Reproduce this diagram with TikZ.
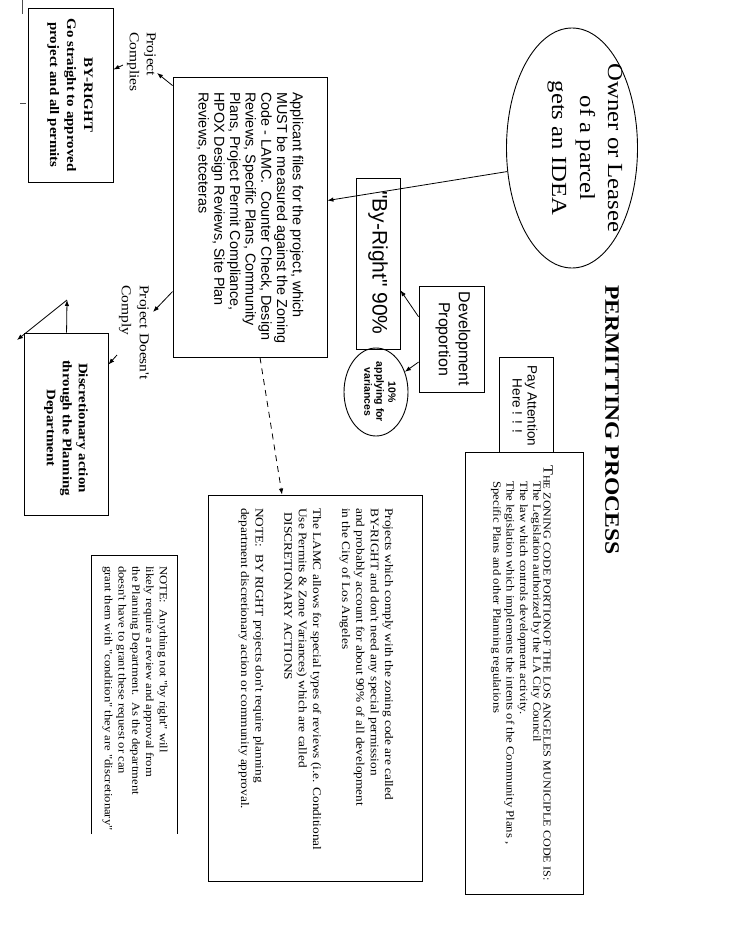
\documentclass[tikz,border=0pt]{standalone}
\usepackage{fontspec}
\setmainfont{Liberation Serif}
\newfontfamily\arial{Liberation Sans}
\newfontfamily\pal{Liberation Serif}[FakeStretch=1.15]
\usetikzlibrary{shapes.geometric,arrows.meta,calc}
\begin{document}
\begin{tikzpicture}[x=1pt,y=-1pt,
  boxn/.style={draw, line width=0.9pt, inner sep=0pt, rectangle},
  ell/.style={draw, line width=0.9pt, inner sep=0pt, ellipse},
  txt/.style={rotate=-90, inner sep=0pt},
  arr/.style={-{Latex[length=6pt,width=4.5pt]}, line width=0.8pt},
  scanmark/.style={line width=0.6pt, black!70},
]
\useasboundingbox (0,0) rectangle (728,944);
\fill[white] (0,0) rectangle (728,944);

% Idea ellipse
\node[ell, minimum width=131pt, minimum height=240pt] (idea) at (572,148) {};
\node[txt, font=\pal\fontsize{21.5}{28}\selectfont, align=center] (ideat) at (585,148) {Owner or Leasee\\of a parcel\\gets an IDEA};

% Title
\node[txt, font=\pal\bfseries\fontsize{20.5}{24}\selectfont] (title) at (612,420) {PERMITTING PROCESS};

% Pay attention
\node[boxn, minimum width=54pt, minimum height=95pt] (pay) at (526,404.5) {};
\node[txt, font=\arial\fontsize{13.5}{15}\selectfont, align=center] (payt) at (525,406) {Pay Attention\\Here ! ! !};

% Zoning box
\node[boxn, minimum width=118pt, minimum height=442pt] (zon) at (524,673) {};
\node[txt, anchor=west, font=\pal\fontsize{10.6}{13}\selectfont] (zt1) at (548,465) {{\fontsize{14}{14}\selectfont T}{\fontsize{9.5}{13}\selectfont HE} ZONING CODE PORTIONOF THE LOS ANGELES MUNICIPLE CODE IS:};
\node[txt, anchor=west, align=left, font=\pal\fontsize{11.1}{13.3}\selectfont] (zt2) at (516,481) {The Legislation authorized by the LA City Council\\The law which controls development activity.\\The legislation which implements the intents of the Community Plans ,\\Specific Plans and other Planning regulations};

% Projects box
\node[boxn, minimum width=214pt, minimum height=386pt] (proj) at (315,688) {};
\node[txt, anchor=west, align=left, font=\pal\fontsize{11.6}{14.4}\selectfont] (projt) at (316,508) {Projects which comply with the zoning code are called\\BY-RIGHT and don't need any special permission\\and probably account for about 90\% of all development\\in the City of Los Angeles\\[14.4pt]The LAMC allows for special types of reviews (i.e. Conditional\\Use Permits \& Zone Variances) which are called\\\hspace{4pt}DISCRETIONARY ACTIONS\\[14.4pt]NOTE:\ \ BY RIGHT projects don't require planning\\department discretionary action or community approval.};

% NOTE box (side rules and top)
\node[inner sep=0pt, minimum width=85pt, minimum height=278pt] (note) at (134.5,695) {};
\draw[line width=0.9pt] (note.south west) -- (note.north west) -- (note.north east) -- (note.south east);
\node[txt, anchor=west, align=left, font=\pal\fontsize{11}{13.7}\selectfont] (notet) at (135,566) {NOTE:\ \ Anything not "by right" will\\likely require a review and approval from\\the Planning Department.\ \ As the department\\doesn't have to grant these request or can\\grant them with "condition" they are "discretionary"};

% Applicant box
\node[boxn, minimum width=154pt, minimum height=280pt] (applicant) at (250,217) {};
\node[txt, anchor=west, align=left, font=\arial\fontsize{14.4}{15.7}\selectfont] (appt) at (250,92) {Applicant files for the project, which\\MUST be measured against the Zoning\\Code - LAMC.\ \ Counter Check, Design\\Reviews, Specific Plans, Community\\Plans, Project Permit Compliance,\\HPOX Design Reviews, Site Plan\\Reviews, etceteras};

% By-Right 90%
\node[boxn, minimum width=44pt, minimum height=171pt] (byr) at (378,263.5) {};
\node[txt, font=\arial\fontsize{21}{24}\selectfont] (byrt) at (378,263) {"By-Right" 90\%};

% Development proportion
\node[boxn, minimum width=65pt, minimum height=106pt] (devp) at (451.5,339) {};
\node[txt, font=\arial\fontsize{16}{20}\selectfont, align=center] (devpt) at (453,339) {Development\\Proportion};

% 10% ellipse
\node[ell, minimum width=64pt, minimum height=88pt] (var) at (376,392) {};
\node[txt, font=\arial\bfseries\fontsize{10.5}{12}\selectfont, align=center] (vart) at (380,392) {10\%\\applying for\\variances};

% BY-RIGHT box
\node[boxn, minimum width=85pt, minimum height=174pt] (byr2) at (70.5,95) {};
\node[txt, font=\pal\bfseries\fontsize{13}{17}\selectfont, align=center] (byr2t) at (70,95) {BY-RIGHT\\Go straight to approved\\project and all permits};

% Discretionary box
\node[boxn, minimum width=84pt, minimum height=182pt] (disc) at (66,424) {};
\node[txt, font=\pal\bfseries\fontsize{13}{16}\selectfont, align=center] (disct) at (66,428) {Discretionary action\\through the Planning\\Department};

% Labels
\node[txt, anchor=west, align=left, font=\pal\fontsize{13.5}{17}\selectfont] (pcomp) at (141.5,32) {Project\\Complies};
\node[txt, anchor=west, align=left, font=\pal\fontsize{13.5}{18}\selectfont] (pdoes) at (134,285) {Project Doesn't\\Comply};

% Connectors
\draw[arr] (idea.200) -- (applicant.12);
\draw[arr] (devp.146) -- (byr.-50);
\draw[arr] (devp.215) -- (var.35);
\draw[arr, dash pattern=on 6pt off 5pt] ($(applicant.south)+(10,0)$) -- ($(proj.north)+(-33,0)$);

\coordinate (pcA) at (157,73);
\draw[arr] ($(applicant.north west)+(0,9)$) -- (pcA);
\coordinate (pcB) at (123,65);
\draw[arr] (pcB) -- ($(byr2.north east)+(0,62)$);

\coordinate (pdA) at (153,312);
\draw[arr] ($(applicant.north west)+(0,215)$) -- (pdA);
\coordinate (pdB) at (117,355);
\draw[arr] (pdB) -- ($(disc.north east)+(0,32)$);

\coordinate (dtop) at (67,300);
\coordinate (dleft) at (17,340);
\draw[arr] ($(disc.north west)+(43,0)$) -- (dtop);
\draw[arr] (dtop) -- (dleft);

% scan marks
\draw[scanmark] (22,0) -- (22,14);
\draw[scanmark] (20,103) -- (26,103);
\end{tikzpicture}
\end{document}
